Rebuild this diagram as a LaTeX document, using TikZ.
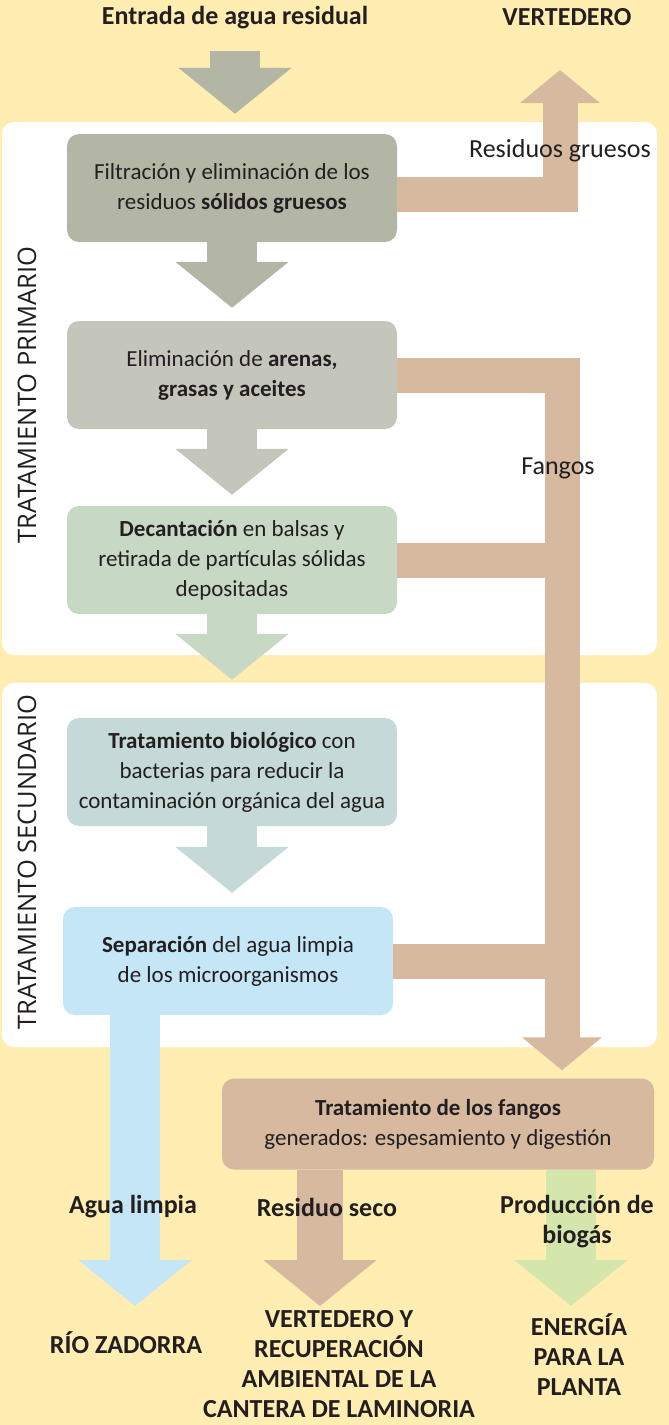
\documentclass[tikz,border=0pt]{standalone}
\usepackage{fontspec}
\setmainfont{Carlito}
\newfontfamily\sidefont{Open Sans}
\usetikzlibrary{arrows.meta,calc}

\definecolor{paper}{HTML}{FFEDB2}
\definecolor{ink}{HTML}{231F20}
\definecolor{grisA}{HTML}{B3B6A5}
\definecolor{grisB}{HTML}{C5C6BB}
\definecolor{verdeA}{HTML}{C7D8C5}
\definecolor{azulA}{HTML}{C5DAD8}
\definecolor{azulB}{HTML}{C4E6F6}
\definecolor{mud}{HTML}{D7B9A0}
\definecolor{verdeB}{HTML}{D5E6AC}

\tikzset{
  stage/.style={rounded corners=12pt, minimum width=330pt, minimum height=108pt,
    align=center, text=ink, font=\fontsize{23}{30}\selectfont},
  panel/.style={fill=white, rounded corners=12pt},
  flow/.style={line width=50pt, -{Triangle[width=111pt,length=46pt]}},
  sludge/.style={draw=mud, line width=35pt, line join=miter,
    -{Triangle[width=78pt,length=33pt]}},
  band/.style={draw=mud, line width=35pt},
  outlet/.style={align=center, text=ink, font=\bfseries\fontsize{26}{30}\selectfont},
  tag/.style={align=center, text=ink, font=\fontsize{26}{30}\selectfont},
  side/.style={rotate=90, text=ink, font=\sidefont\fontsize{25.5}{28}\selectfont},
}

\begin{document}
\begin{tikzpicture}[x=1pt,y=-1pt]
\fill[paper] (0,0) rectangle (669,1425);
\useasboundingbox (0,0) rectangle (669,1425);

% white panels
\fill[panel] (2,122) rectangle (657,655);
\fill[panel] (2,683) rectangle (657,1047);

\node[side] (primario) at (27,395) {TRATAMIENTO PRIMARIO};
\node[side] (secundario) at (27,862) {TRATAMIENTO SECUNDARIO};

% stages
\node[outlet] (entrada) at (235,18) {Entrada de agua residual};
\node[outlet] (vertedero) at (567,17) {VERTEDERO};
\node[stage, fill=grisA] (filtro) at (232,188) {Filtración y eliminación de los\\residuos \textbf{sólidos gruesos}};
\node[stage, fill=grisB] (arenas) at (232,375) {Eliminación de \textbf{arenas,}\\\textbf{grasas y aceites}};
\node[stage, fill=verdeA] (decant) at (232,560) {\textbf{Decantación} en balsas y\\retirada de partículas sólidas\\depositadas};
\node[stage, fill=azulA] (biolog) at (232,772) {\textbf{Tratamiento biológico} con\\bacterias para reducir la\\contaminación orgánica del agua};
\node[stage, fill=azulB] (separa) at (228,961) {\textbf{Separación} del agua limpia\\de los microorganismos};
\node[stage, fill=mud, minimum width=432pt, minimum height=91pt] (fangos) at (438,1124) {\textbf{Tratamiento de los fangos}\\generados: espesamiento y digestión};

\coordinate (vertTop) at (560,70);
\coordinate (fangoX) at (562,0);
\coordinate (rioTip) at (135,1306);
\coordinate (vertTip) at (320,1306);
\coordinate (energiaTip) at (571,1306);

% water line
\draw[flow, grisA, shorten <=18pt, shorten >=20pt] (entrada.south) -- (entrada.south |- filtro.north);
\draw[flow, grisA, shorten >=13pt] (filtro) -- (arenas);
\draw[flow, grisB, shorten >=11pt] (arenas) -- (decant);
\draw[flow, verdeA, shorten >=38pt] (decant) -- (biolog);
\draw[flow, azulA, shorten >=14pt] (biolog.south) -- (biolog.south |- separa.north);
\draw[flow, azulB] (separa.south -| rioTip) -- (rioTip);

% sludge line
\draw[sludge] ([yshift=-6.5pt]filtro.east) -| (vertTop);
\draw[sludge, shorten >=8pt] (arenas.east) -| (fangoX |- fangos.north);
\draw[band] (decant.east) -- (decant.east -| fangoX);
\draw[band] (separa.east) -- (separa.east -| fangoX);
\draw[flow, mud, line width=46pt] (fangos.south -| vertTip) -- (vertTip);
\draw[flow, verdeB] (fangos.south -| energiaTip) -- (energiaTip);

% labels
\node[tag] (gruesos) at (560,151) {Residuos gruesos};
\node[tag] (fangoslbl) at (558,468) {Fangos};
\node[outlet] (limpia) at (133,1207) {Agua limpia};
\node[outlet] (seco) at (327,1207) {Residuo seco};
\node[outlet] (biogas) at (577,1222) {Producción de\\biogás};
\node[outlet] (rio) at (126,1343) {RÍO ZADORRA};
\node[outlet] (cantera) at (339,1364) {VERTEDERO Y\\RECUPERACIÓN\\AMBIENTAL DE LA\\CANTERA DE LAMINORIA};
\node[outlet] (energia) at (579,1355) {ENERGÍA\\PARA LA\\PLANTA};
\end{tikzpicture}
\end{document}
